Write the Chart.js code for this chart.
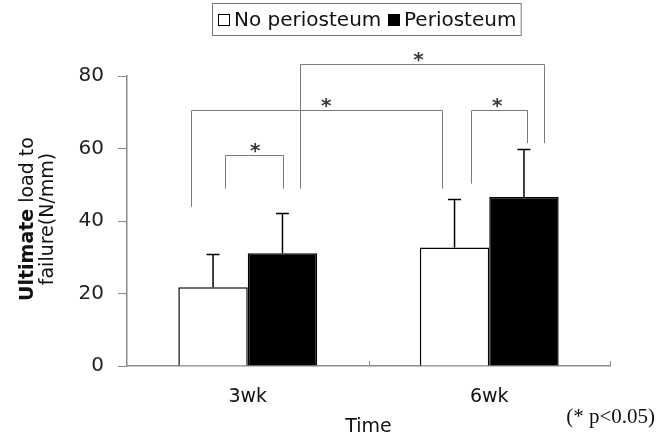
<!DOCTYPE html>
<html><head><meta charset="utf-8">
<script src="https://cdn.jsdelivr.net/npm/chart.js@4/dist/chart.umd.min.js"></script>
<style>html,body{margin:0;padding:0;background:#fff;}#wrap{width:658px;height:441px;}</style>
</head><body><div id="wrap"><canvas id="c" width="658" height="441"></canvas></div>
<script>
const categories = ['3wk', '6wk'];
const seriesNames = ['No periosteum', 'Periosteum'];
const noPeriosteumMean = [21.7, 32.7];
const noPeriosteumSD = [9.3, 13.5];
const periosteumMean = [31.1, 46.6];
const periosteumSD = [11.2, 13.2];
const yTicks = [0, 20, 40, 60, 80];
const yTitleBold = 'Ultimate';
const yTitleRest = ' load to';
const yTitleLine2 = 'failure(N/mm)';
const xTitle = 'Time';
const footnote = '(* p<0.05)';
// significance brackets (x in category units, y in data units)
const bracketLeft = [-0.093, -0.234, 0.215, 0.924];
const bracketRight = [0.144, 0.806, 1.228, 1.158];
const bracketTop = [58.1, 70.7, 83.4, 70.7];
const bracketLeftEnd = [48.9, 43.9, 48.9, 50.3];
const bracketRightEnd = [48.9, 48.9, 61.5, 61.5];
const bracketStarX = [0.031, 0.325, 0.707, 1.033];
const bracketLabel = ['*', '*', '*', '*'];

const FONT = 'DejaVu Sans';
const AXIS = '#8a8a8a';

const decorPlugin = {
  id: 'decor',
  afterDatasetsDraw(chart) {
    const ctx = chart.ctx, x = chart.scales.x, y = chart.scales.y;
    ctx.save();
    // error bars
    chart.data.datasets.forEach((ds, di) => {
      const meta = chart.getDatasetMeta(di);
      meta.data.forEach((el, i) => {
        const top = Math.round(y.getPixelForValue(ds.data[i] + ds.sd[i])) + 0.5;
        ctx.strokeStyle = '#000';
        ctx.lineWidth = 1.5;
        ctx.beginPath();
        ctx.moveTo(el.x, el.y);
        ctx.lineTo(el.x, top);
        ctx.moveTo(el.x - 6.5, top);
        ctx.lineTo(el.x + 6.5, top);
        ctx.stroke();
      });
    });
    // inward ticks at category boundaries on x axis
    ctx.strokeStyle = AXIS;
    ctx.lineWidth = 1;
    for (let i = 0; i < categories.length; i++) {
      const px = Math.round(x.getPixelForValue(i + 0.5)) + 0.5;
      ctx.beginPath();
      ctx.moveTo(px, y.bottom);
      ctx.lineTo(px, y.bottom - 5);
      ctx.stroke();
    }
    // significance brackets
    ctx.strokeStyle = '#7a7a7a';
    ctx.lineWidth = 1;
    for (let i = 0; i < bracketLeft.length; i++) {
      const xl = Math.round(x.getPixelForValue(bracketLeft[i])) + 0.5;
      const xr = Math.round(x.getPixelForValue(bracketRight[i])) + 0.5;
      const yt = Math.round(y.getPixelForValue(bracketTop[i])) + 0.5;
      ctx.beginPath();
      ctx.moveTo(xl, y.getPixelForValue(bracketLeftEnd[i]));
      ctx.lineTo(xl, yt);
      ctx.lineTo(xr, yt);
      ctx.lineTo(xr, y.getPixelForValue(bracketRightEnd[i]));
      ctx.stroke();
      ctx.fillStyle = '#3a3a3a';
      ctx.font = 'bold 20px "' + FONT + '"';
      ctx.textAlign = 'center';
      ctx.textBaseline = 'middle';
      ctx.fillText(bracketLabel[i], x.getPixelForValue(bracketStarX[i]), yt - 4);
    }
    ctx.restore();
  },
  afterDraw(chart) {
    const ctx = chart.ctx, area = chart.chartArea;
    ctx.save();
    // y title
    ctx.fillStyle = '#111';
    ctx.textBaseline = 'middle';
    const cy = 219;
    ctx.translate(28, cy);
    ctx.rotate(-Math.PI / 2);
    ctx.font = 'bold 19px "' + FONT + '"';
    const wb = ctx.measureText(yTitleBold).width;
    ctx.font = '19px "' + FONT + '"';
    const wr = ctx.measureText(yTitleRest).width;
    let sx = -(wb + wr) / 2;
    ctx.textAlign = 'left';
    ctx.font = 'bold 19px "' + FONT + '"';
    ctx.fillText(yTitleBold, sx, 0);
    ctx.font = '19px "' + FONT + '"';
    ctx.fillText(yTitleRest, sx + wb, 0);
    ctx.textAlign = 'center';
    ctx.fillText(yTitleLine2, 0, 20.5);
    ctx.restore();

    ctx.save();
    // x title
    ctx.fillStyle = '#111';
    ctx.font = '19px "' + FONT + '"';
    ctx.textAlign = 'center';
    ctx.textBaseline = 'middle';
    ctx.fillText(xTitle, (area.left + area.right) / 2, 427);
    // footnote
    ctx.font = '21px "Liberation Serif"';
    ctx.textAlign = 'right';
    ctx.fillText(footnote, 655, 417);
    // legend
    ctx.font = '20px "' + FONT + '"';
    const sq = 12, g1 = 4, g2 = 7, pad = 5;
    const w0 = ctx.measureText(seriesNames[0]).width;
    const w1 = ctx.measureText(seriesNames[1]).width;
    const total = pad + sq + g1 + w0 + g2 + sq + g1 + w1 + pad;
    const bx = Math.round((area.left + area.right) / 2 - total / 2 - 2) + 0.5;
    const by = 3.5, bh = 32, cyl = by + bh / 2;
    ctx.strokeStyle = '#777';
    ctx.lineWidth = 1;
    ctx.strokeRect(bx, by, total, bh);
    let px = Math.round(bx + pad);
    const sy = Math.round(cyl - sq / 2);
    ctx.strokeStyle = '#000';
    ctx.fillStyle = '#fff';
    ctx.fillRect(px, sy, sq, sq);
    ctx.strokeRect(px + 0.5, sy + 0.5, sq - 1, sq - 1);
    px += sq + g1;
    ctx.fillStyle = '#111';
    ctx.textAlign = 'left';
    ctx.textBaseline = 'middle';
    ctx.fillText(seriesNames[0], px, cyl + 1);
    px = Math.round(px + w0 + g2);
    ctx.fillStyle = '#000';
    ctx.fillRect(px, sy, sq, sq);
    px += sq + g1;
    ctx.fillStyle = '#111';
    ctx.fillText(seriesNames[1], px, cyl + 1);
    ctx.restore();
  }
};

new Chart(document.getElementById('c'), {
  type: 'bar',
  data: {
    labels: categories,
    datasets: [
      { label: seriesNames[0], data: noPeriosteumMean, sd: noPeriosteumSD, backgroundColor: '#ffffff', borderColor: '#000', borderWidth: 1.5 },
      { label: seriesNames[1], data: periosteumMean, sd: periosteumSD, backgroundColor: '#000000', borderColor: '#000', borderWidth: 1.5 }
    ]
  },
  options: {
    responsive: false,
    animation: false,
    devicePixelRatio: 1,
    categoryPercentage: 0.575,
    barPercentage: 1,
    layout: { padding: { top: 76, right: 48, left: 0, bottom: 0 } },
    plugins: { legend: { display: false }, tooltip: { enabled: false } },
    scales: {
      x: {
        offset: true,
        grid: { display: false, drawTicks: false, tickLength: 0 },
        border: { display: true, color: AXIS, width: 1.5 },
        ticks: { font: { family: FONT, size: 19 }, color: '#111', padding: 20 },
        afterFit(s) { s.height = 75; }
      },
      y: {
        min: 0, max: 80,
        afterBuildTicks(s) { s.ticks = yTicks.map(v => ({ value: v })); },
        grid: { drawOnChartArea: false, tickLength: 9, color: AXIS, lineWidth: 1 },
        border: { display: true, color: AXIS, width: 1.5 },
        ticks: { font: { family: FONT, size: 20 }, color: '#222', padding: 14 },
        afterFit(s) { s.width = 127; }
      }
    }
  },
  plugins: [decorPlugin]
});
</script>
</body></html>
